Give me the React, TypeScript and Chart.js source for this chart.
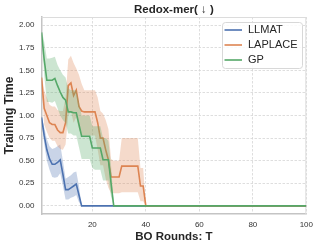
import React, { useEffect, useRef } from "react";
import { Chart, registerables } from "chart.js";

Chart.register(...registerables);

const rounds = [
  1, 2, 3, 4, 5, 6, 7, 8, 9, 10, 11, 12, 13, 14, 15, 16, 17, 18, 19, 20,
  21, 22, 23, 24, 25, 26, 27, 28, 29, 30, 31, 32, 33, 34, 35, 36, 37, 38, 39, 40, 100,
];

const llmatMean = [
  0.98, 0.78, 0.62, 0.52, 0.46, 0.46, 0.48, 0.51, 0.35, 0.18, 0.18, 0.2, 0.22, 0.24, 0.12, 0,
  0, 0, 0, 0, 0, 0, 0, 0, 0, 0, 0, 0, 0, 0, 0, 0, 0, 0, 0, 0, 0, 0, 0, 0, 0,
];
const llmatUpper = [
  1.0, 0.87, 0.74, 0.66, 0.63, 0.64, 0.66, 0.68, 0.5, 0.3, 0.32, 0.34, 0.37, 0.38, 0.22, 0,
  0, 0, 0, 0, 0, 0, 0, 0, 0, 0, 0, 0, 0, 0, 0, 0, 0, 0, 0, 0, 0, 0, 0, 0, 0,
];
const llmatLower = [
  0.95, 0.69, 0.5, 0.4, 0.32, 0.31, 0.32, 0.36, 0.22, 0.07, 0.07, 0.09, 0.1, 0.12, 0.04, 0,
  0, 0, 0, 0, 0, 0, 0, 0, 0, 0, 0, 0, 0, 0, 0, 0, 0, 0, 0, 0, 0, 0, 0, 0, 0,
];

const laplaceMean = [
  1.42, 1.08, 1.0, 0.92, 0.9, 0.9, 0.84, 0.81, 0.81, 0.92, 1.33, 1.36, 1.22, 1.28, 1.1, 1.05,
  1.04, 1.04, 1.04, 1.04, 1.04, 0.92, 0.75, 0.75, 0.62, 0.51, 0.32, 0.32, 0.32, 0.32, 0.44,
  0.44, 0.44, 0.44, 0.44, 0.44, 0.44, 0.22, 0.22, 0, 0,
];
const laplaceUpper = [
  1.46, 1.28, 1.2, 1.12, 1.1, 1.1, 1.06, 1.05, 1.05, 1.2, 1.62, 1.66, 1.58, 1.52, 1.45, 1.35,
  1.28, 1.28, 1.28, 1.28, 1.28, 1.2, 1.05, 1.02, 0.95, 0.85, 0.52, 0.5, 0.5, 0.5, 0.75,
  0.75, 0.75, 0.75, 0.75, 0.75, 0.75, 0.42, 0.42, 0, 0,
];
const laplaceLower = [
  1.38, 0.9, 0.82, 0.75, 0.72, 0.72, 0.66, 0.63, 0.62, 0.68, 1.0, 1.05, 0.92, 0.98, 0.85, 0.78,
  0.78, 0.78, 0.78, 0.78, 0.78, 0.62, 0.45, 0.45, 0.3, 0.2, 0.14, 0.14, 0.14, 0.14, 0.15,
  0.15, 0.15, 0.15, 0.15, 0.15, 0.15, 0.05, 0.05, 0, 0,
];

const gpMean = [
  1.92, 1.62, 1.39, 1.39, 1.39, 1.41, 1.33, 1.26, 1.2, 1.17, 1.04, 1.04, 1.03, 1.03, 0.9, 0.77,
  0.77, 0.77, 0.77, 0.64, 0.64, 0.64, 0.64, 0.51, 0.51, 0.51, 0.25, 0,
  0, 0, 0, 0, 0, 0, 0, 0, 0, 0, 0, 0, 0,
];
const gpUpper = [
  1.95, 1.82, 1.63, 1.63, 1.64, 1.65, 1.56, 1.5, 1.45, 1.42, 1.3, 1.28, 1.28, 1.28, 1.15, 1.0,
  1.0, 1.0, 1.0, 0.88, 0.88, 0.88, 0.88, 0.75, 0.75, 0.72, 0.45, 0,
  0, 0, 0, 0, 0, 0, 0, 0, 0, 0, 0, 0, 0,
];
const gpLower = [
  1.88, 1.45, 1.15, 1.15, 1.14, 1.16, 1.08, 1.0, 0.95, 0.92, 0.8, 0.8, 0.78, 0.78, 0.65, 0.52,
  0.52, 0.52, 0.52, 0.42, 0.4, 0.4, 0.4, 0.28, 0.28, 0.28, 0.1, 0,
  0, 0, 0, 0, 0, 0, 0, 0, 0, 0, 0, 0, 0,
];

const xTicks = [20, 40, 60, 80, 100];
const yTicks = [0, 0.25, 0.5, 0.75, 1.0, 1.25, 1.5, 1.75, 2.0];

const seriesNames = ["LLMAT", "LAPLACE", "GP"];
const seriesColors = ["#4C72B0", "#DD8452", "#55A868"];
const bandColors = ["rgba(76,114,176,0.3)", "rgba(221,132,82,0.3)", "rgba(85,168,104,0.3)"];

const FONT = "'Liberation Sans', Arial, sans-serif";

const pts = (vals: number[]) => vals.map((v, i) => ({ x: rounds[i], y: v }));

const titlePlugin = {
  id: "customTitle",
  afterDraw(chart: any) {
    const { ctx, chartArea } = chart;
    ctx.save();
    ctx.fillStyle = "#262626";
    ctx.font = `bold 11.5px ${FONT}`;
    ctx.textAlign = "center";
    ctx.textBaseline = "middle";
    ctx.fillText("Redox-mer( ↓ )", (chartArea.left + chartArea.right) / 2, 10);
    ctx.restore();
  },
};

const framePlugin = {
  id: "frame",
  beforeDatasetsDraw(chart: any) {
    const { ctx, chartArea } = chart;
    ctx.save();
    ctx.strokeStyle = "#dcdcdc";
    ctx.lineWidth = 1;
    ctx.beginPath();
    ctx.moveTo(chartArea.left, chartArea.top + 0.5);
    ctx.lineTo(chartArea.right, chartArea.top + 0.5);
    ctx.moveTo(chartArea.right - 0.5, chartArea.top);
    ctx.lineTo(chartArea.right - 0.5, chartArea.bottom);
    ctx.stroke();
    ctx.restore();
  },
};

const legendPlugin = {
  id: "customLegend",
  afterDraw(chart: any) {
    const { ctx } = chart;
    const x0 = 222.5, y0 = 22.5, w = 80, h = 46;
    ctx.save();
    ctx.fillStyle = "rgba(255,255,255,0.85)";
    ctx.strokeStyle = "#d8d8d8";
    ctx.lineWidth = 1;
    ctx.beginPath();
    (ctx as any).roundRect(x0, y0, w, h, 3);
    ctx.fill();
    ctx.stroke();
    ctx.font = `11px ${FONT}`;
    ctx.textBaseline = "middle";
    ctx.textAlign = "left";
    seriesNames.forEach((name, i) => {
      const y = 30 + i * 15;
      ctx.strokeStyle = seriesColors[i];
      ctx.lineWidth = 1.6;
      ctx.beginPath();
      ctx.moveTo(224.5, y);
      ctx.lineTo(242, y);
      ctx.stroke();
      ctx.fillStyle = "#262626";
      ctx.fillText(name, 248, y);
    });
    ctx.restore();
  },
};

export default function App() {
  const ref = useRef<HTMLCanvasElement | null>(null);

  useEffect(() => {
    document.body.style.margin = "0";
    if (!ref.current) return;
    const uppers = [llmatUpper, laplaceUpper, gpUpper];
    const lowers = [llmatLower, laplaceLower, gpLower];
    const means = [llmatMean, laplaceMean, gpMean];
    const datasets: any[] = [];
    for (let i = 0; i < 3; i++) {
      const base = datasets.length;
      const order = (2 - i) * 3;
      datasets.push({
        label: seriesNames[i],
        data: pts(means[i]),
        borderColor: seriesColors[i],
        borderWidth: 1.6,
        pointRadius: 0,
        fill: false,
        order: order,
      });
      datasets.push({
        label: seriesNames[i] + " upper",
        data: pts(uppers[i]),
        borderWidth: 0,
        borderColor: "rgba(0,0,0,0)",
        backgroundColor: bandColors[i],
        pointRadius: 0,
        fill: base + 2,
        order: order + 1,
      });
      datasets.push({
        label: seriesNames[i] + " lower",
        data: pts(lowers[i]),
        borderWidth: 0,
        borderColor: "rgba(0,0,0,0)",
        pointRadius: 0,
        fill: false,
        order: order + 2,
      });
    }

    const chart = new Chart(ref.current, {
      type: "line",
      data: { datasets },
      options: {
        animation: false,
        responsive: false,
        maintainAspectRatio: false,
        layout: { padding: { top: 17, right: 12, left: 0, bottom: 0 } },
        plugins: {
          legend: { display: false },
          title: { display: false },
          tooltip: { enabled: false },
        },
        elements: { line: { tension: 0 } },
        scales: {
          x: {
            type: "linear",
            min: 1,
            max: 100,
            afterBuildTicks: (axis: any) => {
              axis.ticks = xTicks.map((v) => ({ value: v }));
            },
            afterFit: (axis: any) => {
              axis.height = 34;
            },
            ticks: {
              font: { family: FONT, size: 8 },
              color: "#333333",
              padding: 6,
              maxRotation: 0,
              autoSkip: false,
            },
            grid: {
              color: "#d6d6d6",
              lineWidth: 0.8,
              drawTicks: false,
            },
            border: { color: "#c4c4c4", width: 1.5, dash: [2.5, 1.5] },
            title: {
              display: true,
              text: "BO Rounds: T",
              font: { family: FONT, size: 11.5, weight: "bold" },
              color: "#262626",
              padding: { top: 0, bottom: 4 },
            },
          },
          y: {
            type: "linear",
            min: -0.09,
            max: 2.09,
            afterBuildTicks: (axis: any) => {
              axis.ticks = yTicks.map((v) => ({ value: v }));
            },
            afterFit: (axis: any) => {
              axis.width = 41.5;
            },
            ticks: {
              font: { family: FONT, size: 8 },
              color: "#333333",
              padding: 7,
              callback: (v: any) => Number(v).toFixed(2),
            },
            grid: {
              color: "#d6d6d6",
              lineWidth: 0.8,
              drawTicks: false,
            },
            border: { color: "#c4c4c4", width: 1.5, dash: [2.5, 1.5] },
            title: {
              display: true,
              text: "Training Time",
              font: { family: FONT, size: 12, weight: "bold" },
              color: "#262626",
              padding: { top: 2, bottom: 0 },
            },
          },
        },
      } as any,
      plugins: [framePlugin, titlePlugin, legendPlugin],
    });
    return () => chart.destroy();
  }, []);

  return (
    <div style={{ width: 319, height: 248 }}>
      <canvas ref={ref} width={319} height={248} style={{ display: "block" }} />
    </div>
  );
}
